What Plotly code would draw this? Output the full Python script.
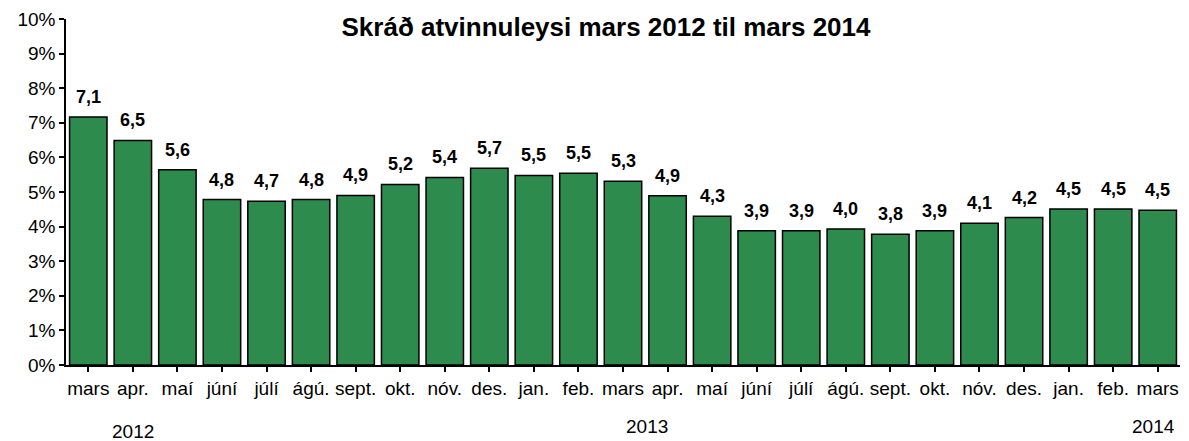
import plotly.graph_objects as go

# Data
months = ["mars", "apr.", "maí", "júní", "júlí", "ágú.", "sept.", "okt.", "nóv.", "des.",
          "jan.", "feb.", "mars", "apr.", "maí", "júní", "júlí", "ágú.", "sept.", "okt.",
          "nóv.", "des.", "jan.", "feb.", "mars"]
values = [7.17, 6.49, 5.64, 4.78, 4.73, 4.78, 4.90, 5.22, 5.42, 5.69,
          5.48, 5.54, 5.31, 4.89, 4.30, 3.88, 3.88, 3.93, 3.78, 3.88,
          4.10, 4.26, 4.51, 4.51, 4.47]
labels = ["7,1", "6,5", "5,6", "4,8", "4,7", "4,8", "4,9", "5,2", "5,4", "5,7",
          "5,5", "5,5", "5,3", "4,9", "4,3", "3,9", "3,9", "4,0", "3,8", "3,9",
          "4,1", "4,2", "4,5", "4,5", "4,5"]
year_labels = ["2012", "2013", "2014"]
year_positions = [1.0, 12.54, 23.9]
y_ticks = list(range(0, 11))
y_tick_text = [f"{v}%" for v in y_ticks]

title = "Skráð atvinnuleysi mars 2012 til mars 2014"

FONT = "Liberation Sans, Arial, sans-serif"
GREEN = "#2E8B4E"

idx = list(range(len(months)))

fig = go.Figure()
fig.add_trace(go.Bar(
    x=idx,
    y=values,
    marker=dict(color=GREEN, line=dict(color="black", width=1.5)),
    hoverinfo="skip",
))

annotations = []
for i, (v, t) in enumerate(zip(values, labels)):
    annotations.append(dict(
        x=i, y=v, xref="x", yref="y", text=f"<b>{t}</b>", showarrow=False,
        yanchor="bottom", yshift=8, font=dict(family=FONT, size=18, color="black"),
    ))
year_y = [-0.191, -0.179, -0.179]
for yl, xp, yp in zip(year_labels, year_positions, year_y):
    annotations.append(dict(
        x=xp, y=yp, xref="x", yref="paper", text=yl, showarrow=False,
        yanchor="middle", xanchor="center", font=dict(family=FONT, size=19, color="black"),
    ))

fig.update_layout(
    width=1189, height=441,
    margin=dict(l=66, r=9, t=19, b=76),
    paper_bgcolor="white", plot_bgcolor="white",
    bargap=0.16,
    showlegend=False,
    font=dict(family=FONT, size=19, color="black"),
    title=dict(text=f"<b>{title}</b>", x=606 / 1189, xanchor="center",
               y=1 - 27 / 441, yanchor="middle", yref="container",
               font=dict(family=FONT, size=26, color="black")),
    annotations=annotations,
    xaxis=dict(
        tickmode="array", tickvals=idx, ticktext=months,
        range=[-0.5, len(months) - 0.5],
        showline=True, linecolor="black", linewidth=1.5,
        ticks="outside", ticklen=5, tickcolor="black", tickwidth=1.5,
        showgrid=False, zeroline=False,
        tickfont=dict(family=FONT, size=19, color="black"),
        automargin=False,
        fixedrange=True,
    ),
    yaxis=dict(
        range=[0, 10], tickmode="array", tickvals=y_ticks, ticktext=y_tick_text,
        showline=True, linecolor="black", linewidth=1.5,
        ticks="outside", ticklen=5, tickcolor="black", tickwidth=1.5,
        showgrid=False, zeroline=False,
        tickfont=dict(family=FONT, size=19, color="black"),
        automargin=False,
        fixedrange=True,
    ),
)

fig.write_html("out.html", config={"displayModeBar": False},
               post_script="document.body.style.margin='0';")
